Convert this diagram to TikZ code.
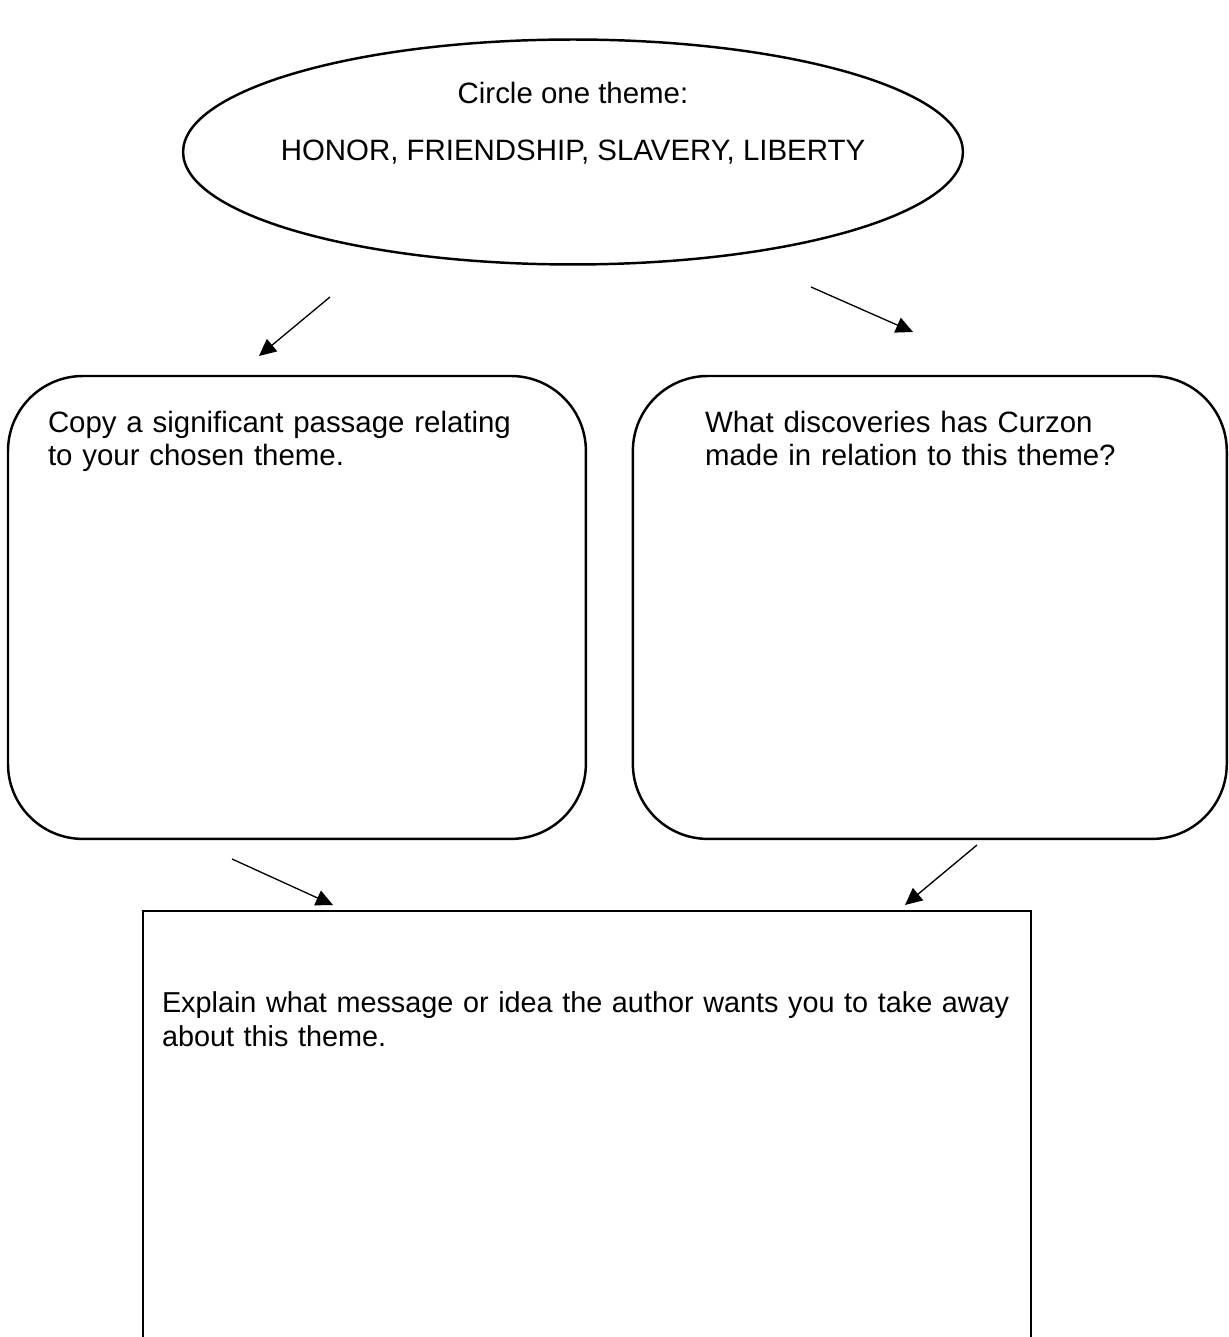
\documentclass[tikz,border=0pt]{standalone}
\usepackage{fontspec}
\setmainfont{Liberation Sans}
\usetikzlibrary{positioning,shapes.geometric,arrows.meta}

\begin{document}
\begin{tikzpicture}[x=0.02cm,y=-0.02cm,node distance=0.94cm,outer sep=0pt,
    themeb/.style={
      draw,
      line width=1.4pt,
      ellipse,
      minimum width=15.6cm,
      minimum height=4.5cm},
    roundb/.style={
      draw,
      line width=1.4pt,
      rounded corners=1.5cm,
      minimum height=9.26cm},
    plainb/.style={
      draw,
      line width=1.4pt,
      minimum width=17.76cm,
      minimum height=10cm},
    txt/.style={
      font={\fontsize{16.75pt}{18.9pt}\selectfont},
      inner sep=0pt,
      align=left},
    arr/.style={
      -{Triangle[length=0.34cm,width=0.32cm]},
      line width=0.75pt},
    ]
    \clip (0,0) rectangle (1228,1337);
    \node[themeb] (theme) at (573,152) {};
    \node[txt,anchor=base] (themeq) at (573,104) {Circle one theme:};
    \node[txt,anchor=base] (themes) at (573,161) {HONOR, FRIENDSHIP, SLAVERY, LIBERTY};
    \node[roundb,minimum width=11.56cm,anchor=north west] (copy) at (8,376) {};
    \node[roundb,minimum width=11.88cm,right=of copy] (disc) {};
    \node[plainb,below right=1.44cm and 2.7cm of copy.south west] (expl) {};
    \node[txt,anchor=north west,text width=10cm] (copyt) at (48,411)
      {Copy a significant passage relating\\to your chosen theme.};
    \node[txt,anchor=north west,text width=10cm] (disct) at (705,411)
      {What discoveries has Curzon\\made in relation to this theme?};
    \node[txt,font={\fontsize{16.4pt}{18.9pt}\selectfont},anchor=north west,text width=18cm] (explt) at (162,992)
      {Explain what message or idea the author wants you to take away\\about this theme.};
    % free arrow ends
    \coordinate (a1s) at (330,297);
    \coordinate (a1e) at (259,356);
    \coordinate (a2s) at (811,287);
    \coordinate (a2e) at (913,332);
    \coordinate (a3s) at (232,859);
    \coordinate (a3e) at (333,905);
    \coordinate (a4s) at (977,845);
    \coordinate (a4e) at (905,905);
    \draw[arr] (a1s) -- (a1e);
    \draw[arr] (a2s) -- (a2e);
    \draw[arr] (a3s) -- (a3e);
    \draw[arr] (a4s) -- (a4e);
\end{tikzpicture}
\end{document}
